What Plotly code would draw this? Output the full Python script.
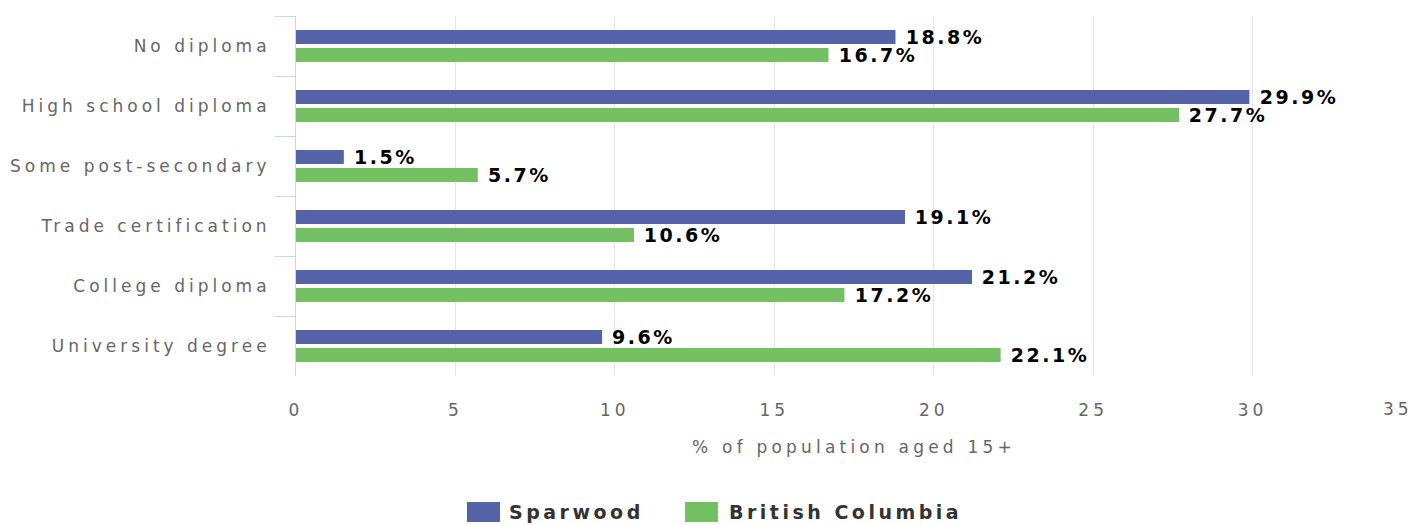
import plotly.graph_objects as go

categories = ["No diploma", "High school diploma", "Some post-secondary",
              "Trade certification", "College diploma", "University degree"]
sparwood = [18.8, 29.9, 1.5, 19.1, 21.2, 9.6]
bc = [16.7, 27.7, 5.7, 10.6, 17.2, 22.1]
series_names = ["Sparwood", "British Columbia"]
x_ticks = [0, 5, 10, 15, 20, 25, 30, 35]
x_title = "% of population aged 15+"

colors = ["#5463a7", "#72c062"]
font_family = "DejaVu Sans, Verdana, sans-serif"

fig = go.Figure()
for name, vals, col in zip(series_names, [sparwood, bc], colors):
    fig.add_trace(go.Bar(
        y=categories, x=vals, name=name, orientation="h",
        marker=dict(color=col, line=dict(width=0)),
        showlegend=False,
    ))

tick_text = [str(t) for t in x_ticks]

# custom legend: wide swatches + bold labels (layout positions in paper units)
legend_swatch_x = [(0.1532, 0.1828), (0.3486, 0.3781)]
legend_text_x = [0.1891, 0.3862]
legend_y = (-0.35, -0.4056)
legend_text_y = -0.3778
legend_spacing = 3.5
value_spacing = 2.5
series_yshift = [9, -9]

shapes = []
annotations = [dict(x=x_ticks[-1], xref="x", y=0, yref="paper", text=tick_text[-1],
                    xanchor="right", yanchor="middle", yshift=-33, xshift=-1,
                    showarrow=False, font=dict(size=17, color="#666666"))]
for name, col, (x0, x1), tx in zip(series_names, colors, legend_swatch_x, legend_text_x):
    shapes.append(dict(type="rect", xref="paper", yref="paper", x0=x0, x1=x1,
                       y0=legend_y[0], y1=legend_y[1], fillcolor=col, line=dict(width=0)))
    annotations.append(dict(x=tx, xref="paper", y=legend_text_y, yref="paper", text=name,
                            xanchor="left", yanchor="middle", showarrow=False,
                            xshift=len(name) * legend_spacing / 2,
                            font=dict(size=19, color="#333333", weight="bold")))

# value labels at the end of each bar
for vals, ys in zip([sparwood, bc], series_yshift):
    for cat, v in zip(categories, vals):
        label = f"{v:.1f}%"
        annotations.append(dict(x=v, xref="x", y=cat, yref="y", text=label,
                                xanchor="left", yanchor="middle", showarrow=False,
                                xshift=8 + len(label) * value_spacing / 2, yshift=ys,
                                font=dict(size=19, color="#000000", weight="bold")))

fig.update_layout(
    width=1413, height=525,
    margin=dict(l=296, r=1, t=16, b=149),
    barmode="group", bargap=0.4, bargroupgap=0.22,
    plot_bgcolor="white", paper_bgcolor="white",
    font=dict(family=font_family, size=17, color="#666666"),
    showlegend=False,
    xaxis=dict(range=[x_ticks[0], x_ticks[-1]], tickvals=x_ticks,
               ticktext=tick_text[:-1] + [""],
               showgrid=True, gridcolor="#e6e6e6",
               zeroline=False, showline=False, ticks="",
               ticklabelstandoff=22,
               title=dict(text=x_title, standoff=22, font=dict(size=17, color="#666666"))),
    yaxis=dict(autorange="reversed", showline=True, linecolor="#ccd6eb", linewidth=1,
               ticks="outside", tickson="boundaries", ticklen=20, tickcolor="#ccd6eb",
               ticklabelstandoff=21, showgrid=False),
    shapes=shapes,
    annotations=annotations,
)

css = """
body { margin: 0 !important; }
.ytick text, .xtick text { letter-spacing: 4px; }
.g-xtitle text { letter-spacing: 4.2px; }
.annotation .annotation-text { letter-spacing: %spx; }
.annotation[data-index="0"] .annotation-text { letter-spacing: 4px; }
.annotation[data-index="1"] .annotation-text, .annotation[data-index="2"] .annotation-text { letter-spacing: %spx; }
""" % (value_spacing, legend_spacing)
post = "var s=document.createElement('style');s.textContent=%r;document.head.appendChild(s);" % css

fig.write_html("out.html", post_script=post, config={"displayModeBar": False})
